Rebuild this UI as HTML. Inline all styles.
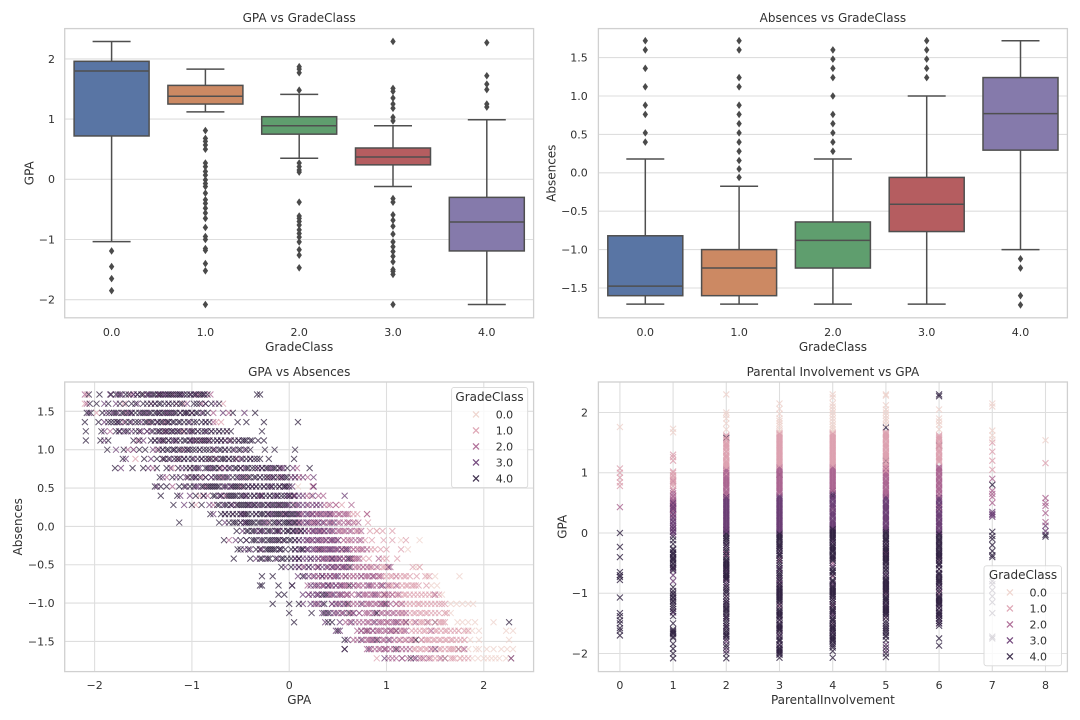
<!DOCTYPE html>
<html lang="en">
<head>
<meta charset="utf-8">
<title>Student performance charts</title>
<style>
html,body{margin:0;padding:0;background:#fff;width:1080px;height:720px;overflow:hidden}
svg{display:block;filter:blur(0.3px)}
text{font-family:"DejaVu Sans","Liberation Sans",sans-serif;fill:#303030}
</style>
</head>
<body>
<svg id="fig" xmlns="http://www.w3.org/2000/svg" width="1080" height="720" viewBox="0 0 1080 720">
<rect width="1080" height="720" fill="#fff"/>
</svg>
<script>
// ---------- Shared data ----------
const gradeClasses = ["0.0","1.0","2.0","3.0","4.0"];
const classColors = ["#edd1cb","#dc9fae","#a9628f","#683a72","#2d1e3e"];
const boxColors = ["#5975a4","#cc8963","#5f9e6e","#b55d60","#857aab"];

// ---------- GPA vs GradeClass ----------
const gpaTicks = [2,1,0,-1,-2];
const gpaWhiskerHigh = [2.29,1.83,1.41,0.89,0.99];
const gpaQ3 = [1.96,1.56,1.04,0.52,-0.30];
const gpaMedian = [1.80,1.38,0.89,0.37,-0.71];
const gpaQ1 = [0.72,1.25,0.75,0.24,-1.19];
const gpaWhiskerLow = [-1.035,1.12,0.35,-0.12,-2.08];
const gpaFliers = [
 [-1.19,-1.45,-1.65,-1.85],
 [0.81,0.68,0.63,0.57,0.50,0.27,0.21,0.13,0.07,-0.01,-0.07,-0.12,-0.23,-0.34,-0.40,-0.48,-0.56,-0.65,-0.80,-0.95,-1.0,-1.15,-1.18,-1.40,-1.52,-2.08],
 [1.87,1.83,1.77,1.48,0.27,0.21,0.155,0.12,-0.38,-0.61,-0.65,-0.70,-0.76,-0.84,-0.90,-0.96,-1.04,-1.17,-1.26,-1.47],
 [2.29,1.51,1.46,1.35,1.25,1.18,1.03,0.97,-0.32,-0.38,-0.59,-0.68,-0.78,-0.91,-1.04,-1.12,-1.20,-1.28,-1.37,-1.50,-1.53,-1.58,-2.08],
 [2.27,1.72,1.58,1.49,1.25,1.20]
];

// ---------- Absences vs GradeClass ----------
const absTicks = [1.5,1,0.5,0,-0.5,-1,-1.5];
const absTickLabels = ["1.5","1.0","0.5","0.0","\u22120.5","\u22121.0","\u22121.5"];
const absWhiskerHigh = [0.18,-0.175,0.18,1.0,1.72];
const absQ3 = [-0.82,-1.0,-0.64,-0.06,1.24];
const absMedian = [-1.475,-1.24,-0.88,-0.41,0.77];
const absQ1 = [-1.60,-1.60,-1.24,-0.765,0.295];
const absWhiskerLow = [-1.71,-1.71,-1.71,-1.71,-1.0];
const absFliers = [
 [1.72,1.60,1.36,1.12,0.88,0.76,0.52,0.40],
 [1.72,1.60,1.24,1.12,0.88,0.76,0.64,0.52,0.40,0.28,0.16,0.05,-0.06],
 [1.60,1.48,1.36,1.24,1.00,0.76,0.64,0.52,0.40,0.28],
 [1.72,1.60,1.48,1.36,1.24],
 [-1.12,-1.24,-1.60,-1.72]
];

// ---------- GPA vs Absences scatter: GPA values per absence row, per class ----------
const absenceRows = [1.72,1.60,1.48,1.36,1.24,1.12,1.00,0.88,0.76,0.64,0.52,0.40,0.28,0.16,0.05,-0.06,-0.18,-0.30,-0.42,-0.53,-0.65,-0.77,-0.89,-1.01,-1.13,-1.25,-1.36,-1.48,-1.60,-1.72];
const gpaXTicks = [-2,-1,0,1,2];
const rowsClass4 = [
[-2.06,-1.95,-1.78,-1.68,-1.6,-1.5,-1.46,-1.38,-1.3,-1.27,-1.22,-1.14,-1.05,-.98,-.9,-.84,-.33,-.3,-1.83,-1.74,-1.65,-1.56,-1.52,-1.44,-1.4,-1.35,-1.32,-1.24,-1.2,-1.16,-1.12,-1.08,-1.02,-.96,-.92,-.88],
[-2.05,-1.98,-1.86,-1.74,-1.62,-1.5,-1.42,-1.34,-1.28,-1.2,-1.12,-.98,-.92,-.8,-.72,-1.68,-1.58,-1.46,-1.38,-1.32,-1.24,-1.16,-1.1,-.95,-.86],
[-2.08,-2.04,-1.92,-1.8,-1.72,-1.66,-1.58,-1.48,-1.42,-1.36,-1.3,-1.24,-1.16,-1.08,-1.04,-.96,-.84,-.58,-.35,-1.85,-1.78,-1.7,-1.62,-1.54,-1.5,-1.44,-1.38,-1.33,-1.28,-1.22,-1.18,-1.12,-1.06,-1.0,-.94,-.88],
[-2.1,-1.96,-1.86,-1.8,-1.74,-1.68,-1.58,-1.46,-1.4,-1.32,-1.26,-1.2,-1.14,-1.08,-.98,-.9,-.82,-.53,-.44,-.26,.09,-1.83,-1.77,-1.64,-1.55,-1.48,-1.42,-1.35,-1.3,-1.24,-1.18,-1.12,-1.04,-.95,-.86],
[-2.09,-1.93,-1.78,-1.7,-1.58,-1.46,-1.36,-1.3,-1.24,-1.18,-1.12,-1.04,-.98,-.9,-.84,-.76,-.68,-.6,-.28,-1.75,-1.66,-1.54,-1.4,-1.33,-1.27,-1.21,-1.15,-1.08,-1.0,-.94,-.87,-.8,-.72,-.64],
[-2.09,-1.94,-1.86,-1.6,-1.54,-1.42,-1.34,-1.28,-1.2,-1.12,-1.06,-.98,-.92,-.86,-.78,-.7,-.56,-.48,-.44,-.38,-.26,-1.38,-1.3,-1.24,-1.16,-1.08,-1.02,-.95,-.88,-.82,-.74,-.66,-.6,-.52,-.46,-.4,-.32],
[-1.87,-1.7,-1.54,-1.48,-1.34,-1.26,-1.2,-1.14,-1.08,-1.02,-.96,-.88,-.82,-.7,-.62,-.52,-.4,-.25,-.15,.06,-1.3,-1.24,-1.18,-1.12,-1.05,-.99,-.92,-.85,-.78,-.72,-.66,-.58,-.5,-.44],
[-1.71,-1.49,-1.36,-1.28,-1.18,-1.12,-1.04,-.94,-.86,-.8,-.7,-.66,-.58,-.44,-.36,-.3,-.21,.05,-1.3,-1.24,-1.15,-1.08,-1.0,-.9,-.83,-.76,-.68,-.62,-.55,-.48,-.4,-.33],
[-1.79,-1.61,-1.5,-1.36,-1.26,-1.14,-1.06,-.98,-.86,-.76,-.66,-.54,-.44,-.38,-.32,-.24,-.14,-.02,.21,-1.02,-.94,-.84,-.78,-.72,-.62,-.56,-.5,-.42,-.35,-.28,-.22,-.16,-.1],
[-1.33,-1.2,-1.12,-1,-.92,-.8,-.68,-.58,-.46,-.4,-.34,-.26,-.2,-.12,-.04,.06,-1.04,-.96,-.86,-.76,-.72,-.64,-.54,-.48,-.42,-.36,-.3,-.23,-.16,-.08,-.02],
[-1.38,-1.32,-1.26,-1.13,-1.02,-.9,-.84,-.8,-.76,-.72,-.6,-.56,-.52,-.46,-.38,-.3,-.22,-.14,-.06,0,-1.08,-.98,-.88,-.82,-.78,-.74,-.66,-.58,-.54,-.48,-.42,-.34,-.26,-.18,-.1,-.04],
[-1.32,-1.15,-.96,-.76,-.62,-.58,-.54,-.48,-.4,-.32,-.24,-.16,-.08,-.02,.05,-.88,-.78,-.7,-.64,-.6,-.56,-.5,-.44,-.36,-.28,-.2,-.12,-.05,.01],
[-1.19,-1.0,-.9,-.74,-.64,-.5,-.48,-.44,-.38,-.32,-.26,-.18,-.12,-.06,-.02,.04,-.72,-.66,-.6,-.54,-.52,-.46,-.42,-.36,-.28,-.22,-.16,-.1,-.04],
[-.81,-.7,-.62,-.54,-.44,-.38,-.3,-.26,-.18,-.12,-.08,-.02,.04,-.66,-.58,-.5,-.46,-.42,-.34,-.28,-.22,-.14,-.1,-.04,.02,.08],
[-1.13,-.72,-.58,-.54,-.46,-.4,-.36,-.32,-.2,-.14,-.06,-.02,.04,.1,-.62,-.56,-.5,-.44,-.42,-.38,-.3,-.26,-.16,-.1,-.04,0,.06],
[-.54,-.44,-.38,-.3,-.22,-.14,-.06,0,.08,.16,-.42,-.36,-.28,-.2,-.12,-.02,.04,.12],
[-.67,-.5,-.38,-.34,-.26,-.2,-.14,-.1,-.04,.02,.1,-.44,-.36,-.28,-.22,-.18,-.12,-.06,0,.06],
[-.53,-.5,-.34,-.22,-.18,-.14,-.08,.02,.12,.32,-.42,-.3,-.24,-.2,-.16,-.1,-.04,.06,.14],
[-.57,-.4,-.28,-.2,-.08,-.02,.06,.22,.44,.62,-.3,-.22,-.14,-.06,.02,.1],
[-.08,.02,.1,.2,.3,.62],
[-.28,-.17,.14,.34,.58],
[-.3,-.28,-.11,.03,.4,.62],
[-.11,-.05,.34,.38,.98],
[-.17,0,.1,.36,.6,.98],
[0,.23,.36,.4,.62,.9],
[.05,.4,.44,1.2,1.5,2.26],
[.5,.8,1.1],
[.57,.9,1.3],
[.57,1.1,1.74],
[1.25,1.6,2.28]
];
const rowsClass3 = [
[-1.84,-1.72,-1.56,-1.42,-1.34,-1.25,-1.18,-1.1,-1.01,-.87,-1.76,-1.6,-1.46,-1.28,-1.12,-.96],
[-1.9,-1.78,-1.56,-1.38,-1.24,-1.05,-.86,-.76],
[-2.06,-1.88,-1.76,-1.62,-1.52,-1.34,-1.2,-1.12,-1,-.9,-.68,-.46,-1.82,-1.64,-1.46,-1.26,-1.06],
[-1.9,-1.76,-1.62,-1.52,-1.36,-1.24,-1.02,-.86],
[-1.9,-1.74,-1.62,-1.52,-1.42,-1.34,-1.2,-1.08,-.94,-.8,-.72,-1.68,-1.46,-1.26,-1.14,-1.02,-.86],
[-1.9,-1.5,-1.38,-1.24,-1.16,-1.02,-.9,-.74,-.62,-.52,-1.32,-1.18,-1.0,-.84,-.7],
[-1.78,-1.6,-1.4,-1.3,-1.18,-1.04,-.92,-.76,-.66,-.56,-.46],
[-1.68,-1.42,-1.22,-1.08,-.98,-.9,-.74,-.62,-.5,-.4],
[-1.73,-1.45,-1.22,-1.1,-.92,-.82,-.72,-.6,-.5,-.28,-.18,-.06,.04,-.96,-.8,-.66,-.46,-.32,-.2,-.08],
[-1.3,-1.16,-1.06,-.96,-.86,-.74,-.62,-.52,-.3,-.16,-.08,.02,.14,.25,-.98,-.8,-.66,-.5,-.18,-.06,.06],
[-1.36,-1.06,-.96,-.68,-.64,-.42,-.34,-.26,-.18,-.1,-.04,.25,-.94,-.6,-.38,-.2,-.02,.03],
[-1.12,-1.02,-.88,-.7,-.44,-.36,-.28,-.2,-.12,0,.1,.24,.57,-.72,-.46,-.3,-.14,-.02,.06,.14],
[-1.08,-.82,-.68,-.58,-.42,-.35,-.3,-.22,-.14,-.08,0,.08,.14,.24,.32,-.6,-.4,-.2,-.02,.1,.18,.28],
[-.78,-.66,-.58,-.5,-.34,-.22,-.16,0,.06,.14,.2,.28,.38,-.48,-.2,-.04,.1,.18,.24,.32,.42],
[-.66,-.5,-.44,-.28,-.24,-.1,0,.06,.14,.2,.3,.36,.46,-.46,-.12,.02,.1,.18,.26,.34,.42],
[-.48,-.34,-.26,-.18,-.1,-.02,.04,.12,.2,.26,.32,.4,-.3,-.12,.06,.16,.24,.3,.36,.44],
[-.55,-.44,-.3,-.16,-.06,.06,.14,.2,.28,.34,.42,.46,.1,.18,.24,.3,.38,.44,.5],
[-.46,-.4,-.28,-.1,.06,.14,.2,.26,.34,.4,.44,.5,.6,.1,.18,.24,.3,.36,.42,.48,.54,.58],
[-.34,-.24,-.12,.1,.18,.26,.34,.4,.48,.56,.64,.06,.14,.22,.3,.36,.44,.52,.6],
[-.04,.06,.16,.24,.34,.4,.46,.54,.58,1.02,.1,.2,.3,.38,.44,.5,.56],
[.09,.2,.3,.38,.46,.5,.74,.86,.16,.26,.34,.42,.48],
[.03,.22,.3,.36,.44,.52,.66,.82,.96,.26,.34,.4,.48,.54],
[.14,.24,.3,.4,.46,.54,.72,.88,.2,.28,.36,.44,.52,.6],
[.14,.22,.3,.44,.52,.74,.94,1.0,.26,.34,.48,.56],
[.34,.42,.5,.56,.72,.88,.38,.46,.54,.66],
[.37,.52,.64,.88,1.1,1.42],
[.48,.52,.74,.86,1.04],
[.6,.74,.86,1.02],
[.57,.82,.98,1.5],
[.98,1.16,1.3]
];
const rowsClass2 = [
[-2.1,-1.63,-1.33,-.94,-.81],
[-2.08,-1.42,-1.16,-.9],
[-1.68,-1.26,-.78,-.62],
[-1.7,-1.44,-1.28,-.78],
[-1.84,-1.54,-1.28,-1.0,-.64],
[-1.56,-1.3,-.96,-.82,-.66],
[-1.66,-1.36,-1.1,-.78],
[-1.3,-1.14,-.82,-.54],
[-1.4,-1.02,-.7,-.1,.08],
[-1.26,-.9,-.7,-.44,-.22,-.1,.1,.19],
[-1.2,-.86,-.5,-.1,.25],
[-.84,-.66,-.3,.04,.18,.3,.35],
[-.78,-.54,-.1,.06,.2,.28,.36,.42,.48,.64],
[-.46,-.06,.1,.24,.3,.36,.44,.5,.56,.6,.8,.12,.22,.28,.34,.4,.46,.52,.58],
[-.22,.08,.18,.24,.3,.4,.5,.56,.62,.66,.71,.12,.22,.28,.36,.44,.52,.6],
[-.1,.1,.24,.32,.36,.46,.52,.58,.64,.74,.2,.28,.34,.42,.5,.56,.62,.7],
[-.62,-.1,.18,.24,.32,.38,.44,.5,.6,.68,.74,.22,.3,.36,.42,.48,.56,.64,.72],
[-.3,.18,.3,.38,.46,.54,.62,.7,.76,.8,.28,.34,.42,.5,.58,.66,.74],
[.1,.3,.38,.46,.52,.6,.68,.72,.92,.34,.42,.5,.56,.64,.7],
[.14,.28,.44,.5,.56,.64,.72,.8,.9,1.04,.3,.4,.48,.54,.6,.68,.76,.84],
[.24,.34,.42,.54,.62,.7,.78,.82,.88,.94,1.1,.3,.38,.46,.58,.66,.74,.8,.86,.92],
[.19,.28,.48,.56,.6,.7,.76,.84,.9,1.02,1.1,.34,.42,.52,.58,.66,.72,.8,.86,.94],
[.2,.3,.5,.58,.64,.76,.8,.86,.92,1.02,1.12,1.5,.42,.54,.6,.7,.78,.84,.9,.98,1.06],
[.28,.44,.58,.66,.8,.84,.9,.96,1.04,1.16,.5,.62,.7,.76,.82,.88,.94,1.0,1.1],
[.48,.6,.66,.78,.82,.9,.96,1.0,1.06,1.12,1.2,.54,.64,.72,.8,.86,.94,1.02,1.08,1.16],
[.58,.68,.76,.82,.92,.96,1.02,1.08,1.16,1.3,.62,.72,.8,.86,.94,1.0,1.06,1.12,1.2],
[.7,.78,.82,.9,.94,1,1.06,1.14,1.2,1.46,.74,.8,.86,.92,.98,1.04,1.1,1.18],
[.66,.7,.8,.84,.92,.98,1.08,1.2,1.36,.76,.82,.88,.96,1.04,1.14,1.26],
[.8,.88,.94,1,1.08,1.16,1.24,1.46,1.8,.84,.92,.98,1.04,1.12,1.2],
[1.02,1.1,1.22,1.34,1.44,1.56,2.28,1.06,1.16,1.28,1.38]
];
const rowsClass1 = [
[-2.08,-1.5,-1.2],
[-2.1,-1.7,-1.08,-.68],
[-1.98,-1.0],
[-.75,-.7],
[-1.1],
[-.9,-.6],
[-1.6],
[-1.58,-.76],
[-1.2,-.5],
[-1.04,.02,.1],
[.24],
[-.92,.22],
[-.96,.4,.48,.54],
[.42,.52,.62,.66,.7,.8],
[.26,.44,.6,.68,.81],
[.54,.68,.72,.83,.9,.96,1.06],
[.56,.62,.78,.85,.97,1.06,1.2],
[.56,.66,.72,.84,.88,.94,1.0,1.15],
[.66,.76,.82,.96,1.0,1.11],
[.7,.76,.86,.96,1.02,1.27,1.34,.82,.92,.98,1.0],
[.66,.92,1.0,1.06,1.14,1.2,1.31,1.4,1.44,.96,1.04,1.1,1.18,1.24],
[.94,1.0,1.06,1.16,1.22,1.28,1.33,1.41,1.04,1.12,1.2,1.26,1.3],
[.96,1.06,1.14,1.2,1.28,1.36,1.44,1.0,1.1,1.18,1.24,1.32,1.4,1.48,1.54],
[1.1,1.2,1.28,1.34,1.42,1.5,1.57,1.14,1.24,1.32,1.38,1.46,1.54,1.6],
[1.14,1.24,1.3,1.36,1.42,1.5,1.6,1.18,1.28,1.34,1.4,1.46,1.54,1.62],
[1.0,1.12,1.24,1.34,1.38,1.44,1.56,1.6,1.18,1.28,1.36,1.42,1.5,1.54,1.58],
[1.08,1.26,1.34,1.4,1.5,1.56,1.62,1.7,1.8,1.16,1.3,1.38,1.44,1.52,1.6,1.66,1.74,1.84],
[1.12,1.24,1.3,1.4,1.44,1.5,1.56,1.62,1.68,1.76,1.18,1.28,1.36,1.42,1.48,1.54,1.6,1.66,1.72,1.8],
[1.3,1.36,1.42,1.54,1.6,1.66,1.7,1.78,1.28,1.34,1.4,1.48,1.56,1.64,1.68,1.74],
[.9,1.42,1.5,1.66,1.7,1.84,1.36,1.46,1.54,1.6,1.68,1.76,1.8]
];
const rowsClass0 = [
[],[],[],[],[],[],[],[],[],[],
[.09],[],[],[],[],
[.9],[1.15,1.34],[1.22],[],[1.3,1.34],
[1.42,1.5,1.75],[1.46,1.52],[1.5,1.57],[1.66,1.72,1.78,1.84,1.89],[1.6,1.66],
[1.73,1.78,1.84,1.91,2.1],[1.74,1.82,1.88,1.95,2.23,2.3],[1.8,1.86,1.95,2.26],
[1.84,1.92,1.95,2.03,2.1,2.18,2.24,2.3],[1.75,1.88,1.94,2.0,2.04,2.08,2.12,2.16,2.23]
];

// ---------- Parental Involvement vs GPA: GPA values per column, per class ----------
const involvementLevels = [0,1,2,3,4,5,6,7,8];
const colsClass0 = [
[1.76],
[1.73,1.67],
[2.3,2.0,1.96,1.9,1.82,1.72],
[2.15,2.06,1.98,1.9,1.86,1.82,1.78,1.72,1.68],
[2.3,2.25,2.15,2.1,2.05,2,1.95,1.9,1.85,1.8,1.76,1.72,1.68],
[2.3,2.28,2.12,2.05,2.0,1.95,1.9,1.86,1.8],
[2.05,1.9,1.85,1.8,1.72],
[2.15,2.1,1.7,1.62,1.55],
[1.54]
];
const colsClass1 = [
[1.07,1.0,.92,.84,.78],
[1.3,1.26,1.2,1.02,.96,.9,.84,.78,.72,1.0,.94,.88,.82],
[1.62,1.56,1.5,1.46,1.42,1.36,1.3,1.26,1.2,1.16,1.12,1.08,.98,.62,1.6,1.54,1.48,1.44,1.4,1.34,1.28,1.24,1.18,1.14,1.1],
[1.66,1.62,1.58,1.54,1.5,1.46,1.42,1.38,1.34,1.3,1.26,1.22,1.18,1.14,1.64,1.6,1.56,1.52,1.48,1.44,1.4,1.36,1.32,1.28,1.24,1.2,1.16,1.12],
[1.66,1.62,1.58,1.54,1.5,1.46,1.42,1.38,1.34,1.3,1.26,1.22,1.18,1.14,.4,1.64,1.6,1.56,1.52,1.48,1.44,1.4,1.36,1.32,1.28,1.24,1.2,1.16,1.12],
[1.68,1.64,1.6,1.56,1.5,1.46,1.42,1.36,1.32,1.28,1.24,1.18,1.12,1.06,1.0,1.66,1.62,1.58,1.54,1.48,1.44,1.4,1.34,1.3,1.26,1.22,1.16,1.1,1.04],
[1.62,1.58,1.54,1.48,1.44,1.38,1.34,1.28,1.24,1.2,.42,1.6,1.56,1.5,1.46,1.42,1.36,1.32,1.26,1.22,1.18],
[1.5,1.35,1.2,1.05],
[1.16]
];
const colsClass2 = [
[.43],
[.86,.7,.62,.56,.5,.44,.38,.3,.66,.6,.52,.46,.4],
[1.06,1.02,.96,.92,.88,.84,.8,.76,.7,.66,.6,-.9,-1.05,-.35,-.75,1.04,1,.94,.9,.86,.82,.78,.74,.68,.64],
[1.1,1.06,1.02,.98,.94,.9,.86,.82,.78,.74,.7,.66,-.45,-.85,-1.2,-1.6,1.08,1.04,1.0,.96,.92,.88,.84,.8,.76,.72,.68],
[1.1,1.06,1.02,.98,.94,.9,.86,.82,.78,.74,.7,-.5,-.72,-1.2,-1.5,1.08,1.04,1.0,.96,.92,.88,.84,.8,.76,.72],
[1.12,1.08,1.02,.98,.94,.88,.84,.8,.74,.7,.66,.62,-.35,-1.0,-1.4,1.1,1.06,1,.96,.92,.86,.82,.78,.72,.68,.64],
[1.1,1.06,1.02,.96,.92,.86,.82,.76,.72,.66,.6,-.45,-1.0,1.08,1.04,1,.94,.9,.84,.8,.74,.7,.64],
[.9,.7,.65,.6,.5],
[.58,.5,.45,.33,.18]
];
const colsClass3 = [
[],
[.54,.48,.42,.36,.3,.24,.18,.12,.04,-.02,-.6,-.7,-.8,-1.32,.5,.44,.4,.32,.26,.2,.14,.08,.02],
[.62,.58,.54,.5,.46,.42,.38,.34,.3,.26,.22,.18,.14,.1,.06,.02,-.2,-.62,-.82,-1.15,-1.4,-1.55,-1.8,-1.95,.6,.56,.52,.48,.44,.4,.36,.32,.28,.24,.2,.16,.12,.08,.04],
[.62,.58,.54,.5,.46,.42,.38,.34,.3,.26,.22,.18,.14,.1,.06,.02,-.3,-.6,-.78,-1.45,-1.7,-1.85,.6,.56,.52,.48,.44,.4,.36,.32,.28,.24,.2,.16,.12,.08,.04],
[.66,.6,.56,.5,.46,.42,.36,.32,.28,.22,.18,.14,.1,-.15,-.55,-.85,-1.1,-1.35,-1.65,.64,.58,.54,.48,.44,.4,.34,.3,.26,.2,.16,.12,.06],
[.58,.54,.48,.44,.4,.36,.3,.26,.22,.18,.12,.08,-.18,-.7,-1.2,-1.85,-1.95,.6,.56,.5,.46,.42,.38,.32,.28,.24,.2,.14,.1,.06],
[.56,.52,.46,.42,.38,.32,.28,.24,.18,.14,.1,.04,-.6,-.9,-1.25,-1.42,-1.5,.58,.54,.48,.44,.4,.34,.3,.26,.2,.16,.12,.06,.02],
[.35,.32,.3,.27],
[.12,.03]
];
const colsClass4 = [
[0,-.23,-.4,-.65,-.7,-.73,-.78,-1.07,-1.33,-1.38,-1.45,-1.5,-1.58,-1.62,-1.7],
[.08,.02,-.06,-.12,-.18,-.28,-.32,-.36,-.42,-.46,-.5,-.56,-.62,-.9,-.96,-1.02,-1.08,-1.14,-1.22,-1.3,-1.38,-1.5,-1.6,-1.64,-1.68,-1.74,-1.84,-1.92,-2.0,-2.08,-.26,-.34,-.4,-.44,-.52,-.58,-1.0,-1.06,-1.12,-1.18,-1.26,-1.62,-1.66,-1.72],
[1.58,.05,0,-.05,-.1,-.16,-.24,-.28,-.34,-.4,-.44,-.48,-.52,-.56,-.6,-.66,-.7,-.74,-.78,-.86,-.94,-1.0,-1.1,-1.18,-1.24,-1.28,-1.34,-1.46,-1.5,-1.62,-1.68,-1.72,-1.76,-1.86,-1.9,-2.0,-2.08,-.02,-.08,-.13,-.2,-.31,-.37,-.46,-.5,-.54,-.58,-.63,-.68,-.72,-.76,-.9,-.97,-1.05,-1.14,-1.21,-1.26,-1.31,-1.38,-1.42,-1.54,-1.58,-1.65,-1.7],
[.97,.0,-.04,-.08,-.12,-.18,-.22,-.26,-.34,-.38,-.42,-.5,-.54,-.66,-.72,-.84,-.9,-.94,-.98,-1.02,-1.06,-1.1,-1.14,-1.28,-1.32,-1.36,-1.4,-1.5,-1.54,-1.58,-1.62,-1.76,-1.8,-1.9,-1.94,-1.98,-2.02,-2.07,-.02,-.06,-.1,-.15,-.2,-.24,-.3,-.36,-.46,-.58,-.62,-.69,-.75,-.8,-.87,-.92,-.96,-1.0,-1.04,-1.08,-1.12,-1.18,-1.24,-1.3,-1.34,-1.38,-1.44,-1.52,-1.56,-1.6,-1.66,-1.72,-1.78,-1.86,-1.92,-1.96,-2.0],
[.7,.62,.08,.04,0,-.04,-.08,-.12,-.2,-.24,-.28,-.32,-.38,-.42,-.46,-.62,-.66,-.78,-.82,-.9,-.94,-.98,-1.02,-1.06,-1.14,-1.26,-1.3,-1.42,-1.46,-1.54,-1.58,-1.62,-1.7,-1.74,-1.78,-1.84,-1.9,-1.96,-2.07,.06,.02,-.02,-.06,-.1,-.16,-.22,-.26,-.3,-.36,-.4,-.44,-.58,-.64,-.7,-.8,-.88,-.92,-.96,-1.0,-1.04,-1.1,-1.18,-1.22,-1.28,-1.32,-1.38,-1.44,-1.5,-1.56,-1.6,-1.66,-1.72,-1.76,-1.8,-1.87],
[1.75,1.2,.05,.0,-.05,-.1,-.14,-.22,-.26,-.3,-.34,-.38,-.42,-.46,-.5,-.56,-.62,-.66,-.76,-.8,-.84,-.88,-.92,-.96,-1.06,-1.1,-1.14,-1.24,-1.28,-1.32,-1.36,-1.46,-1.54,-1.6,-1.66,-1.72,-1.78,-1.9,-2.0,-2.06,.02,-.02,-.08,-.12,-.18,-.24,-.28,-.32,-.36,-.4,-.44,-.48,-.54,-.6,-.72,-.78,-.82,-.86,-.9,-.94,-.98,-1.02,-1.08,-1.12,-1.18,-1.22,-1.26,-1.3,-1.34,-1.4,-1.5,-1.57,-1.63,-1.7],
[2.3,2.27,1.45,.0,-.04,-.1,-.14,-.2,-.24,-.3,-.34,-.38,-.42,-.5,-.54,-.66,-.7,-.76,-.8,-.84,-.94,-1.04,-1.08,-1.12,-1.16,-1.2,-1.3,-1.34,-1.38,-1.46,-1.54,-1.75,-1.87,-.02,-.07,-.12,-.17,-.22,-.27,-.32,-.36,-.4,-.46,-.52,-.6,-.68,-.73,-.78,-.82,-.88,-.98,-1.06,-1.1,-1.14,-1.18,-1.24,-1.32,-1.36,-1.42,-1.5],
[.8,.02,-.05,-.1,-.2,-.3,-.37,-.4,-.8,-.85,-.95,-1.05,-1.15,-1.33,-1.72,-1.75],
[-.03,-.06]
];

// ---------- Axis functions ----------
const xCatLeft = c => 111.6 + 93.8*c;
const xCatRight = c => 645.3 + 93.8*c;
const yGpaTop = v => 179.3 - 60.2*v;
const yAbsTop = v => 172.8 - 76.8*v;
const xGpaScatter = v => 289.2 + 97.3*v;
const yAbsScatter = v => 526.4 - 76.7*v;
const xInvolvement = v => 619.9 + 53.2*v;
const yGpaBottom = v => 533 - 60.25*v;

// ---------- Drawing helpers ----------
const NS = "http://www.w3.org/2000/svg";
const fig = document.getElementById("fig");
function mk(tag, parent, attrs, txt){
  const n = document.createElementNS(NS, tag);
  for (const k in attrs) n.setAttribute(k, attrs[k]);
  if (txt !== undefined) n.textContent = txt;
  parent.appendChild(n);
  return n;
}
function label(parent, name, str, x, y, size, anchor, rot){
  const a = {x:x, y:y, "font-size":size, "text-anchor":anchor};
  if (rot) a.transform = "rotate(-90 "+x+" "+y+")";
  const el = mk("text", parent, a, str);
  
  
  return el;
}
function minus(v){ return String(v).replace("-", "\u2212"); }

function panel(name, x0, y0, x1, y1){
  const g = mk("g", fig, {});
  
  
  return {g:g, x0:x0, y0:y0, x1:x1, y1:y1};
}
function hGrid(p, y){
  const el = mk("line", p.g, {x1:p.x0, x2:p.x1, y1:y, y2:y, stroke:"#dedede", "stroke-width":1.1});
  
  
}
function vGrid(p, x){
  const el = mk("line", p.g, {x1:x, x2:x, y1:p.y0, y2:p.y1, stroke:"#dedede", "stroke-width":1.1});
  
  
}
function frame(p){
  const el = mk("rect", p.g, {x:p.x0, y:p.y0, width:p.x1-p.x0, height:p.y1-p.y0, fill:"none", stroke:"#d0d0d0", "stroke-width":1.3});
  
  
}
function seg(g, name, x1, y1, x2, y2){
  const el = mk("line", g, {x1:x1, y1:y1, x2:x2, y2:y2, stroke:"#4f4f4f", "stroke-width":1.5});
  
  
}
function drawBoxes(p, xs, ys, hi, q3, med, q1, lo, fliers){
  const halfBox = 37.5, halfCap = 19;
  gradeClasses.forEach((c, i) => {
    const g = mk("g", p.g, {});
    
    
    const cx = xs(i);
    seg(g, 'upper-whisker', cx, ys(hi[i]), cx, ys(q3[i]));
    seg(g, 'lower-whisker', cx, ys(q1[i]), cx, ys(lo[i]));
    seg(g, 'upper-cap', cx-halfCap, ys(hi[i]), cx+halfCap, ys(hi[i]));
    seg(g, 'lower-cap', cx-halfCap, ys(lo[i]), cx+halfCap, ys(lo[i]));
    const box = mk("rect", g, {x:cx-halfBox, y:ys(q3[i]), width:2*halfBox, height:ys(q1[i])-ys(q3[i]), fill:boxColors[i], stroke:"#4f4f4f", "stroke-width":1.5});
    
    
    seg(g, 'median-line', cx-halfBox, ys(med[i]), cx+halfBox, ys(med[i]));
    fliers[i].forEach(v => {
      const y = ys(v);
      const d = mk("polygon", g, {points:[cx,y-3.8,cx+2.7,y,cx,y+3.8,cx-2.7,y].join(","), fill:"#4a4a4a"});
      
      
    });
  });
}
function cross(g, cx, cy, cls, opacity, sw){
  const r = 3;
  const el = mk("path", g, {d:"M"+(cx-r)+" "+(cy-r)+"L"+(cx+r)+" "+(cy+r)+"M"+(cx-r)+" "+(cy+r)+"L"+(cx+r)+" "+(cy-r), fill:"none", stroke:classColors[cls], "stroke-width":sw, "stroke-opacity":opacity});
  
  
}
function legend(p, bx, by, bw, bh, titleX, titleY, markerX, textX, firstY){
  const g = mk("g", p.g, {});
  
  
  const r = mk("rect", g, {x:bx, y:by, width:bw, height:bh, rx:2.5, fill:"#fff", "fill-opacity":0.8, stroke:"#d8d8d8", "stroke-width":0.9});
  
  
  label(g, 'legend-title', 'GradeClass', titleX, titleY, 12, "middle");
  gradeClasses.forEach((c, i) => {
    const y = firstY + 16*i;
    cross(g, markerX, y, i, 0.9, 1.3);
    label(g, 'legend-entry-label', c, textX, y+3.9, 11, "start");
  });
}

// ---------- Panel 1 ----------
const p1 = panel('gpa-vs-gradeclass-boxplot', 64.7, 28.6, 533.6, 317.8);
gpaTicks.forEach(v => {
  hGrid(p1, yGpaTop(v));
  label(p1.g, 'y-tick-label', minus(v), 55, yGpaTop(v)+3.9, 11, "end");
});
drawBoxes(p1, xCatLeft, yGpaTop, gpaWhiskerHigh, gpaQ3, gpaMedian, gpaQ1, gpaWhiskerLow, gpaFliers);
frame(p1);
gradeClasses.forEach((c, i) => label(p1.g, 'x-tick-label', c, xCatLeft(i), 335.8, 11, "middle"));
label(p1.g, 'chart-title', 'GPA vs GradeClass', 299.2, 22, 12, "middle");
label(p1.g, 'x-axis-title', 'GradeClass', 299.2, 350.8, 12, "middle");
label(p1.g, 'y-axis-title', 'GPA', 33.6, 173.2, 12, "middle", true);

// ---------- Panel 2 ----------
const p2 = panel('absences-vs-gradeclass-boxplot', 598.4, 28.6, 1067.4, 317.8);
absTicks.forEach((v, i) => {
  hGrid(p2, yAbsTop(v));
  label(p2.g, 'y-tick-label', absTickLabels[i], 587.8, yAbsTop(v)+3.9, 11, "end");
});
drawBoxes(p2, xCatRight, yAbsTop, absWhiskerHigh, absQ3, absMedian, absQ1, absWhiskerLow, absFliers);
frame(p2);
gradeClasses.forEach((c, i) => label(p2.g, 'x-tick-label', c, xCatRight(i), 335.8, 11, "middle"));
label(p2.g, 'chart-title', 'Absences vs GradeClass', 832.9, 22, 12, "middle");
label(p2.g, 'x-axis-title', 'GradeClass', 832.9, 350.8, 12, "middle");
label(p2.g, 'y-axis-title', 'Absences', 555.6, 173.2, 12, "middle", true);

// ---------- Panel 3 ----------
const p3 = panel('gpa-vs-absences-scatter', 64.7, 382, 533.6, 671.6);
gpaXTicks.forEach(v => {
  vGrid(p3, xGpaScatter(v));
  label(p3.g, 'x-tick-label', minus(v), xGpaScatter(v), 689.2, 11, "middle");
});
absTicks.forEach((v, i) => {
  hGrid(p3, yAbsScatter(v));
  label(p3.g, 'y-tick-label', absTickLabels[i], 54.6, yAbsScatter(v)+3.9, 11, "end");
});
const rowsByClass = [rowsClass0, rowsClass1, rowsClass2, rowsClass3, rowsClass4];
absenceRows.forEach((a, r) => {
  const longest = Math.max(...rowsByClass.map(rows => rows[r].length));
  for (let k = 0; k < longest; k++) {
    rowsByClass.forEach((rows, c) => {
      if (k < rows[r].length) cross(p3.g, xGpaScatter(rows[r][k]), yAbsScatter(a), c, 0.75, 1);
    });
  }
});
frame(p3);
legend(p3, 451.6, 387.4, 76.1, 100.2, 489.5, 401, 476, 495.7, 414.4);
label(p3.g, 'chart-title', 'GPA vs Absences', 299.2, 375.8, 12, "middle");
label(p3.g, 'x-axis-title', 'GPA', 299.2, 704.2, 12, "middle");
label(p3.g, 'y-axis-title', 'Absences', 22, 526.8, 12, "middle", true);

// ---------- Panel 4 ----------
const p4 = panel('parental-involvement-vs-gpa-scatter', 598.4, 382, 1067.4, 671.6);
involvementLevels.forEach(v => {
  vGrid(p4, xInvolvement(v));
  label(p4.g, 'x-tick-label', String(v), xInvolvement(v), 689.2, 11, "middle");
});
gpaTicks.forEach(v => {
  hGrid(p4, yGpaBottom(v));
  label(p4.g, 'y-tick-label', minus(v), 588, yGpaBottom(v)+3.9, 11, "end");
});
const colsByClass = [colsClass0, colsClass1, colsClass2, colsClass3, colsClass4];
involvementLevels.forEach((lvl, col) => {
  const longest = Math.max(...colsByClass.map(cols => cols[col].length));
  for (let k = 0; k < longest; k++) {
    colsByClass.forEach((cols, c) => {
      if (k < cols[col].length) cross(p4.g, xInvolvement(lvl), yGpaBottom(cols[col][k]), c, 0.8, 1.1);
    });
  }
});
frame(p4);
legend(p4, 984, 565.8, 77.5, 100, 1023, 579.2, 1009.9, 1029.5, 592.4);
label(p4.g, 'chart-title', 'Parental Involvement vs GPA', 832.9, 375.8, 12, "middle");
label(p4.g, 'x-axis-title', 'ParentalInvolvement', 832.9, 704.2, 12, "middle");
label(p4.g, 'y-axis-title', 'GPA', 566.6, 526.8, 12, "middle", true);
</script>
</body>
</html>
